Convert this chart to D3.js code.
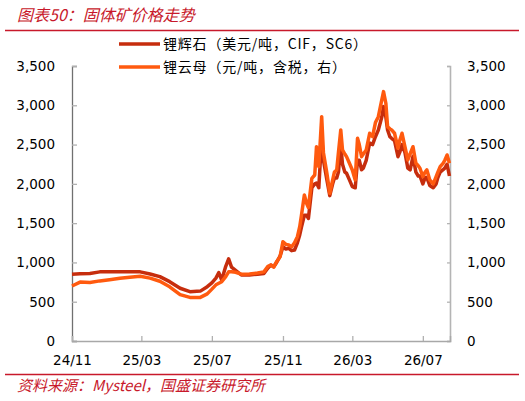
<!DOCTYPE html>
<html>
<head>
<meta charset="utf-8">
<script src="https://cdn.jsdelivr.net/npm/d3@7"></script>
<style>
  body { margin: 0; background: #fff; }
  svg text { font-family: "DejaVu Sans", sans-serif; }
  .cjk { font-family: "Noto Sans CJK SC", sans-serif; }
</style>
</head>
<body>
<div id="chart"></div>
<script>
var dates = ["2024-11-01","2024-11-15","2024-12-02","2024-12-19","2025-01-05","2025-01-23","2025-02-09","2025-02-27",
  "2025-03-16","2025-04-02","2025-04-19","2025-05-07","2025-05-24","2025-06-11","2025-06-23","2025-07-01",
  "2025-07-08","2025-07-13","2025-07-18","2025-07-25","2025-07-30","2025-08-04","2025-08-11","2025-08-21",
  "2025-09-04","2025-09-18","2025-09-29","2025-10-06","2025-10-11","2025-10-16","2025-10-21","2025-10-27",
  "2025-11-01","2025-11-06","2025-11-11","2025-11-16","2025-11-21","2025-11-26","2025-11-30","2025-12-03",
  "2025-12-08","2025-12-12","2025-12-15","2025-12-21","2025-12-26","2025-12-29","2026-01-02","2026-01-07",
  "2026-01-10","2026-01-16","2026-01-21","2026-01-26","2026-01-29","2026-02-02","2026-02-05","2026-02-09",
  "2026-02-12","2026-02-16","2026-02-19","2026-02-24","2026-03-01","2026-03-06","2026-03-10","2026-03-13",
  "2026-03-17","2026-03-20","2026-03-25","2026-03-31","2026-04-05","2026-04-10","2026-04-15","2026-04-21",
  "2026-04-24","2026-04-28","2026-05-01","2026-05-05","2026-05-08","2026-05-13","2026-05-19","2026-05-22",
  "2026-05-26","2026-05-31","2026-06-05","2026-06-09","2026-06-14","2026-06-19","2026-06-23","2026-06-26",
  "2026-07-01","2026-07-05","2026-07-08","2026-07-13","2026-07-19","2026-07-24","2026-07-27","2026-07-31",
  "2026-08-05","2026-08-08","2026-08-12","2026-08-16"];

// 锂辉石 (美元/吨, CIF, SC6) - left axis
var spodumene = [850,855,860,880,882,882,882,880,
  853,819,755,671,628,635,691,740,
  800,870,776,950,1045,940,900,840,
  840,850,860,930,967,946,1000,1080,
  1200,1170,1180,1150,1158,1250,1350,1450,
  1600,1600,1560,1950,2000,2010,1950,2600,
  2300,2050,1850,2000,2075,2075,2150,2500,
  2250,2150,2135,2050,1964,1950,2300,2300,
  2180,2200,2300,2520,2500,2600,2686,2850,
  2983,2850,2686,2600,2580,2550,2346,2400,
  2500,2400,2200,2177,2350,2150,2100,2100,
  2000,2080,2080,1980,1950,2000,2080,2150,
  2180,2200,2250,2100];

// 锂云母 (元/吨, 含税) - right axis
var lepidolite = [700,750,745,765,780,798,810,825,
  800,760,690,590,555,555,600,660,
  715,735,755,820,880,880,875,850,
  853,865,880,950,967,940,1010,1073,
  1264,1230,1222,1200,1250,1328,1455,1600,
  1858,1750,1700,2071,2113,2473,2219,2855,
  2400,2135,1880,2050,2150,2177,2400,2686,
  2431,2380,2346,2262,2177,2050,2580,2500,
  2346,2380,2431,2644,2600,2780,2855,3068,
  3174,3026,2728,2700,2686,2644,2453,2550,
  2644,2473,2304,2380,2473,2262,2230,2198,
  2092,2150,2177,2050,1999,2092,2150,2219,
  2262,2300,2368,2262];

var yTicks = [0, 500, 1000, 1500, 2000, 2500, 3000, 3500];
var xTicks = ["2024-11-01","2025-03-01","2025-07-01","2025-11-01","2026-03-01","2026-07-01"];
var seriesNames = ["锂辉石（美元/吨，CIF，SC6）", "锂云母（元/吨，含税，右）"];
var seriesColors = ["#C62D0D", "#FF5A0F"];

var W = 525, H = 401;
var margin = {left: 72, right: 450, top: 66, bottom: 341};
var parse = d3.timeParse("%Y-%m-%d");
var red = "#C8192B";

var svg = d3.select("#chart").append("svg").attr("width", W).attr("height", H);

// title & source
svg.append("text").attr("class", "cjk").attr("x", 17).attr("y", 21)
  .attr("font-size", 16).attr("font-style", "italic").attr("fill", red)
  .text("图表50：固体矿价格走势");
svg.append("line").attr("x1", 5).attr("x2", 519).attr("y1", 30.5).attr("y2", 30.5)
  .attr("stroke", red).attr("stroke-width", 1.3);
svg.append("line").attr("x1", 5).attr("x2", 519).attr("y1", 374.5).attr("y2", 374.5)
  .attr("stroke", red).attr("stroke-width", 1.3);
svg.append("text").attr("class", "cjk").attr("x", 17).attr("y", 391)
  .attr("font-size", 15).attr("font-style", "italic").attr("fill", red)
  .text("资料来源：Mysteel，国盛证券研究所");

var x = d3.scaleTime().domain([parse("2024-11-01"), parse("2026-08-17")]).range([margin.left, margin.right]);
var yL = d3.scaleLinear().domain([0, 3500]).range([margin.bottom, margin.top]);
var yR = d3.scaleLinear().domain([0, 3500]).range([margin.bottom, margin.top]);

var fmt = d3.format(",");

// left axis
var gL = svg.append("g").attr("transform", "translate(" + margin.left + ",0)")
  .call(d3.axisLeft(yL).tickValues(yTicks).tickSize(-5).tickPadding(17).tickFormat(fmt));
gL.select(".domain").attr("stroke", "#707070").attr("stroke-width", 1.3);
gL.selectAll(".tick line").attr("stroke", "#b0b0b0").attr("stroke-width", 1.3);
gL.selectAll(".tick text").attr("font-size", 13.5).attr("fill", "#000").attr("font-family", "DejaVu Sans");

// right axis
var gR = svg.append("g").attr("transform", "translate(" + margin.right + ",0)")
  .call(d3.axisRight(yR).tickValues(yTicks).tickSize(-3).tickPadding(17).tickFormat(fmt));
gR.select(".domain").attr("stroke", "#b4b4b4").attr("stroke-width", 1.6);
gR.selectAll(".tick line").attr("stroke", "#b4b4b4").attr("stroke-width", 1.3);
gR.selectAll(".tick text").attr("font-size", 13.5).attr("fill", "#000").attr("font-family", "DejaVu Sans");

// bottom axis
var gX = svg.append("g").attr("transform", "translate(0," + margin.bottom + ")")
  .call(d3.axisBottom(x).tickValues(xTicks.map(parse)).tickSize(-5).tickPadding(14)
    .tickFormat(d3.timeFormat("%y/%m")));
gX.select(".domain").attr("stroke", "#a8a8a8").attr("stroke-width", 1.5);
gX.selectAll(".tick line").attr("stroke", "#b0b0b0").attr("stroke-width", 1.3);
gX.selectAll(".tick text").attr("font-size", 13.5).attr("fill", "#000").attr("font-family", "DejaVu Sans");

// lines
var pts1 = dates.map(function(d, i) { return { date: parse(d), v: spodumene[i] }; });
var pts2 = dates.map(function(d, i) { return { date: parse(d), v: lepidolite[i] }; });

svg.append("path").datum(pts1)
  .attr("fill", "none").attr("stroke", seriesColors[0]).attr("stroke-width", 3.5)
  .attr("stroke-linejoin", "round")
  .attr("d", d3.line().x(function(d) { return x(d.date); }).y(function(d) { return yL(d.v); }));
svg.append("path").datum(pts2)
  .attr("fill", "none").attr("stroke", seriesColors[1]).attr("stroke-width", 3.5)
  .attr("stroke-linejoin", "round")
  .attr("d", d3.line().x(function(d) { return x(d.date); }).y(function(d) { return yR(d.v); }));

// legend
var leg = svg.append("g");
seriesNames.forEach(function(name, i) {
  var ly = 44 + i * 23;
  leg.append("line").attr("x1", 119).attr("x2", 160).attr("y1", ly).attr("y2", ly)
    .attr("stroke", seriesColors[i]).attr("stroke-width", 3.5);
  leg.append("text").attr("class", "cjk").attr("x", 163).attr("y", ly + 5)
    .attr("font-size", 14).attr("letter-spacing", 0.8).attr("fill", "#000").text(name);
});
</script>
</body>
</html>
